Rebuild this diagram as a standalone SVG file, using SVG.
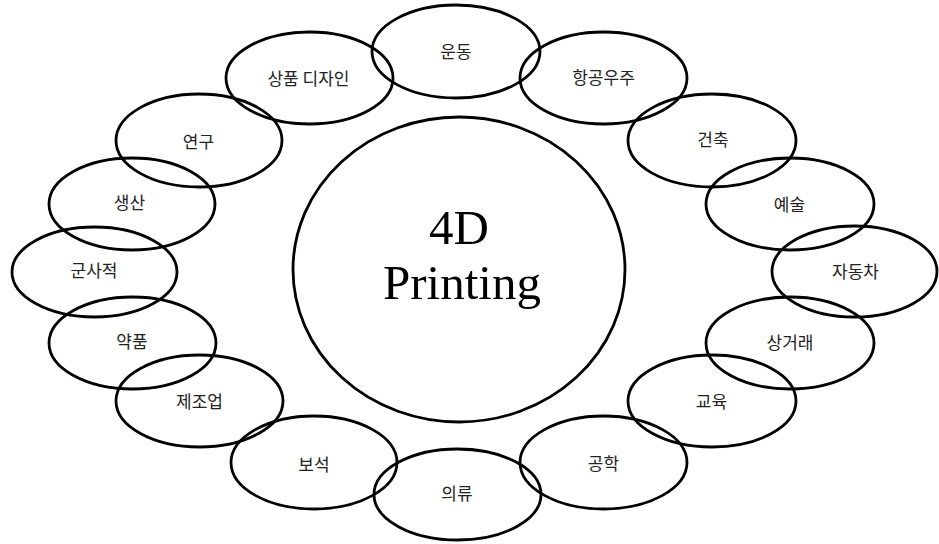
<svg xmlns="http://www.w3.org/2000/svg" width="939" height="544" viewBox="0 0 939 544">
  <style>
    .ring { fill: none; stroke: #000; stroke-width: 2.8; }
    .lbl { font-family: "Noto Sans CJK KR", "Noto Sans", sans-serif; font-size: 17px; fill: #222; text-anchor: middle; }
    .hub { font-family: "Liberation Serif", "Times New Roman", serif; font-size: 49px; fill: #000; text-anchor: middle; }
  </style>
  <rect width="939" height="544" fill="#fff"/>

  <!-- central hub -->
  <g id="hub">
    <ellipse class="ring" cx="459" cy="269.5" rx="166" ry="152.5"/>
    <text class="hub" x="459" y="244">4D</text>
    <text class="hub" x="462" y="299">Printing</text>
  </g>

  <!-- application areas around the hub -->
  <g id="n-sports"><ellipse class="ring" cx="456" cy="51.5" rx="84" ry="46.5"/><text class="lbl" x="456" y="58">운동</text></g>
  <g id="n-aerospace"><ellipse class="ring" cx="603.5" cy="78" rx="83.5" ry="46"/><text class="lbl" x="603.5" y="84">항공우주</text></g>
  <g id="n-architecture"><ellipse class="ring" cx="712" cy="140.5" rx="84" ry="46.5"/><text class="lbl" x="713" y="146">건축</text></g>
  <g id="n-art"><ellipse class="ring" cx="790" cy="204" rx="84" ry="46"/><text class="lbl" x="789.5" y="211">예술</text></g>
  <g id="n-automotive"><ellipse class="ring" cx="854.5" cy="271.5" rx="82.5" ry="45.5"/><text class="lbl" x="855.5" y="278">자동차</text></g>
  <g id="n-commerce"><ellipse class="ring" cx="790" cy="343" rx="84" ry="46"/><text class="lbl" x="790" y="349">상거래</text></g>
  <g id="n-education"><ellipse class="ring" cx="712" cy="401" rx="84" ry="46"/><text class="lbl" x="711.5" y="408">교육</text></g>
  <g id="n-engineering"><ellipse class="ring" cx="603.5" cy="462.5" rx="83.5" ry="46.5"/><text class="lbl" x="603.5" y="470">공학</text></g>
  <g id="n-clothing"><ellipse class="ring" cx="457.5" cy="494.5" rx="83.5" ry="45.5"/><text class="lbl" x="457" y="500">의류</text></g>
  <g id="n-jewelry"><ellipse class="ring" cx="314" cy="462.5" rx="83" ry="46.5"/><text class="lbl" x="314" y="471">보석</text></g>
  <g id="n-manufacturing"><ellipse class="ring" cx="199.5" cy="401" rx="83.5" ry="46"/><text class="lbl" x="199.5" y="408">제조업</text></g>
  <g id="n-medicine"><ellipse class="ring" cx="132.5" cy="343" rx="83.5" ry="46"/><text class="lbl" x="132" y="348">약품</text></g>
  <g id="n-military"><ellipse class="ring" cx="94.5" cy="272" rx="82.5" ry="45"/><text class="lbl" x="94" y="277">군사적</text></g>
  <g id="n-production"><ellipse class="ring" cx="132" cy="204" rx="83" ry="46"/><text class="lbl" x="129.5" y="209">생산</text></g>
  <g id="n-research"><ellipse class="ring" cx="199" cy="140.5" rx="83" ry="46.5"/><text class="lbl" x="198.5" y="148">연구</text></g>
  <g id="n-product-design"><ellipse class="ring" cx="309.5" cy="78" rx="83.5" ry="46"/><text class="lbl" x="308.5" y="85">상품 디자인</text></g>

  <!-- no connectors: the rings touch and overlap directly -->
  <g id="connectors"/>
</svg>
